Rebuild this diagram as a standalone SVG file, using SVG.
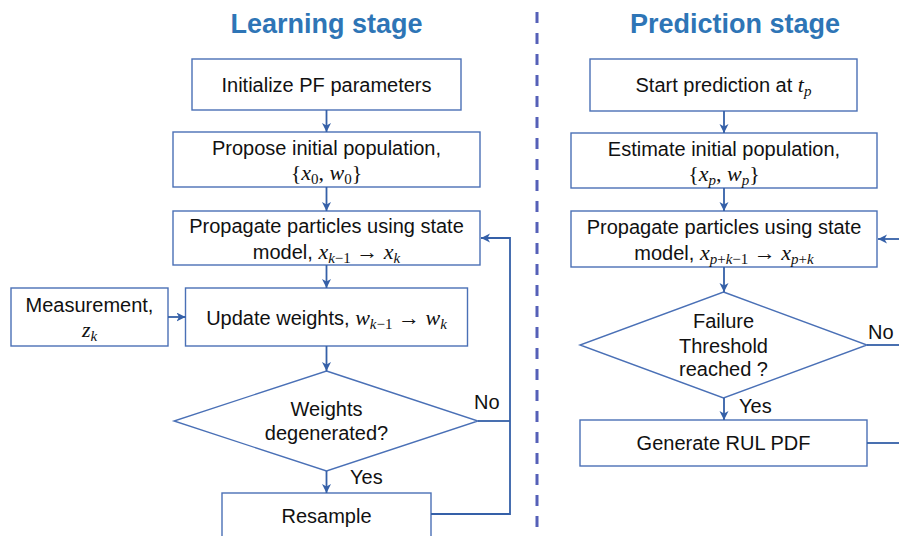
<svg xmlns="http://www.w3.org/2000/svg" width="899" height="536" viewBox="0 0 899 536">
<style>
.box{fill:#fff;stroke:#4A70B6;stroke-width:1.4}
.t{font-family:"Liberation Sans",Arial,sans-serif;font-size:20px;fill:#111;text-anchor:middle}
.lbl{font-family:"Liberation Sans",Arial,sans-serif;font-size:20px;fill:#111}
.title{font-family:"Liberation Sans",Arial,sans-serif;font-size:27px;font-weight:bold;fill:#2E75B6;text-anchor:middle}
.m{font-family:"Liberation Serif","Times New Roman",serif;font-style:italic;font-size:22px}
.s{font-family:"Liberation Serif","Times New Roman",serif;font-size:15px}
.si{font-family:"Liberation Serif","Times New Roman",serif;font-style:italic;font-size:15px}
.r{font-family:"Liberation Serif","Times New Roman",serif;font-size:22px}
.c{fill:none;stroke:#3560A8;stroke-width:1.8}
</style>
<defs>
<marker id="ah" markerUnits="userSpaceOnUse" markerWidth="10" markerHeight="10" refX="9" refY="4.5" orient="auto">
<path d="M0,0 L9,4.5 L0,9 L2.5,4.5 z" fill="#3560A8"/>
</marker>
</defs>

<text class="title" x="326.5" y="33">Learning stage</text>
<text class="title" x="735" y="33">Prediction stage</text>
<line x1="537" y1="12" x2="537" y2="536" stroke="#5560B8" stroke-width="3" stroke-dasharray="11 10"/>

<g id="init">
<rect class="box" x="192" y="59" width="269" height="51"/>
<text class="t" x="326.5" y="92">Initialize PF parameters</text>
</g>
<g id="propose">
<rect class="box" x="173" y="132" width="307" height="55"/>
<text class="t" x="326.5" y="155">Propose initial population,</text>
<text class="t" x="326.5" y="180"><tspan class="r">{</tspan><tspan class="m">x</tspan><tspan class="s" dy="4">0</tspan><tspan class="r" dy="-4">, </tspan><tspan class="m">w</tspan><tspan class="s" dy="4">0</tspan><tspan class="r" dy="-4">}</tspan></text>
</g>
<g id="propagate">
<rect class="box" x="173" y="211" width="307" height="54"/>
<text class="t" x="326.5" y="233">Propagate particles using state</text>
<text class="t" x="326.5" y="259">model, <tspan class="m">x</tspan><tspan class="si" dy="4">k</tspan><tspan class="s">−1</tspan><tspan class="r" dy="-4"> → </tspan><tspan class="m">x</tspan><tspan class="si" dy="4">k</tspan></text>
</g>
<g id="measurement">
<rect class="box" x="11" y="288" width="157" height="58"/>
<text class="t" x="89.5" y="312">Measurement,</text>
<text class="t" x="89.5" y="337"><tspan class="m">z</tspan><tspan class="si" dy="4">k</tspan></text>
</g>
<g id="update">
<rect class="box" x="185.5" y="288" width="282" height="58"/>
<text class="t" x="326.5" y="325">Update weights, <tspan class="m">w</tspan><tspan class="si" dy="4">k</tspan><tspan class="s">−1</tspan><tspan class="r" dy="-4"> → </tspan><tspan class="m">w</tspan><tspan class="si" dy="4">k</tspan></text>
</g>
<g id="degenerated">
<polygon class="box" points="326.5,371 478,421 326.5,471 174,421"/>
<text class="t" x="326.5" y="416">Weights</text>
<text class="t" x="326.5" y="440">degenerated?</text>
</g>
<g id="resample">
<rect class="box" x="222" y="493" width="209" height="60"/>
<text class="t" x="326.5" y="523">Resample</text>
</g>

<g id="start">
<rect class="box" x="590" y="59" width="267" height="52"/>
<text class="t" x="723.5" y="92">Start prediction at <tspan class="m">t</tspan><tspan class="si" dy="4">p</tspan></text>
</g>
<g id="estimate">
<rect class="box" x="571" y="133" width="306" height="55"/>
<text class="t" x="724" y="156">Estimate initial population,</text>
<text class="t" x="724" y="181"><tspan class="r">{</tspan><tspan class="m">x</tspan><tspan class="si" dy="4">p</tspan><tspan class="r" dy="-4">, </tspan><tspan class="m">w</tspan><tspan class="si" dy="4">p</tspan><tspan class="r" dy="-4">}</tspan></text>
</g>
<g id="propagate2">
<rect class="box" x="571" y="211" width="306" height="56"/>
<text class="t" x="724" y="234">Propagate particles using state</text>
<text class="t" x="724" y="260">model, <tspan class="m">x</tspan><tspan class="si" dy="4">p</tspan><tspan class="s">+</tspan><tspan class="si">k</tspan><tspan class="s">−1</tspan><tspan class="r" dy="-4"> → </tspan><tspan class="m">x</tspan><tspan class="si" dy="4">p</tspan><tspan class="s">+</tspan><tspan class="si">k</tspan></text>
</g>
<g id="threshold">
<polygon class="box" points="723.5,292 867,345 723.5,398 580,345"/>
<text class="t" x="723.5" y="328">Failure</text>
<text class="t" x="723.5" y="353">Threshold</text>
<text class="t" x="723.5" y="376">reached ?</text>
</g>
<g id="rul">
<rect class="box" x="580" y="420" width="287" height="46"/>
<text class="t" x="723.5" y="450">Generate RUL PDF</text>
</g>

<g id="connectors">
<line class="c" x1="326.5" y1="110" x2="326.5" y2="132" marker-end="url(#ah)"/>
<line class="c" x1="326.5" y1="187" x2="326.5" y2="211" marker-end="url(#ah)"/>
<line class="c" x1="326.5" y1="265" x2="326.5" y2="288" marker-end="url(#ah)"/>
<line class="c" x1="168" y1="317" x2="185.5" y2="317" marker-end="url(#ah)"/>
<line class="c" x1="326.5" y1="346" x2="326.5" y2="371" marker-end="url(#ah)"/>
<line class="c" x1="326.5" y1="471" x2="326.5" y2="493" marker-end="url(#ah)"/>
<polyline class="c" points="431,514 510,514 510,238 481,238" marker-end="url(#ah)"/>
<line class="c" x1="478" y1="421" x2="510" y2="421"/>
<text class="lbl" x="474" y="409">No</text>
<text class="lbl" x="350" y="484">Yes</text>

<line class="c" x1="724" y1="111" x2="724" y2="133" marker-end="url(#ah)"/>
<line class="c" x1="724" y1="188" x2="724" y2="211" marker-end="url(#ah)"/>
<line class="c" x1="724" y1="267" x2="724" y2="292" marker-end="url(#ah)"/>
<line class="c" x1="724" y1="398" x2="724" y2="420" marker-end="url(#ah)"/>
<line class="c" x1="899" y1="239" x2="878" y2="239" marker-end="url(#ah)"/>
<line class="c" x1="867" y1="345" x2="899" y2="345"/>
<line class="c" x1="867" y1="443" x2="899" y2="443"/>
<text class="lbl" x="868" y="339">No</text>
<text class="lbl" x="739" y="413">Yes</text>
</g>
</svg>
